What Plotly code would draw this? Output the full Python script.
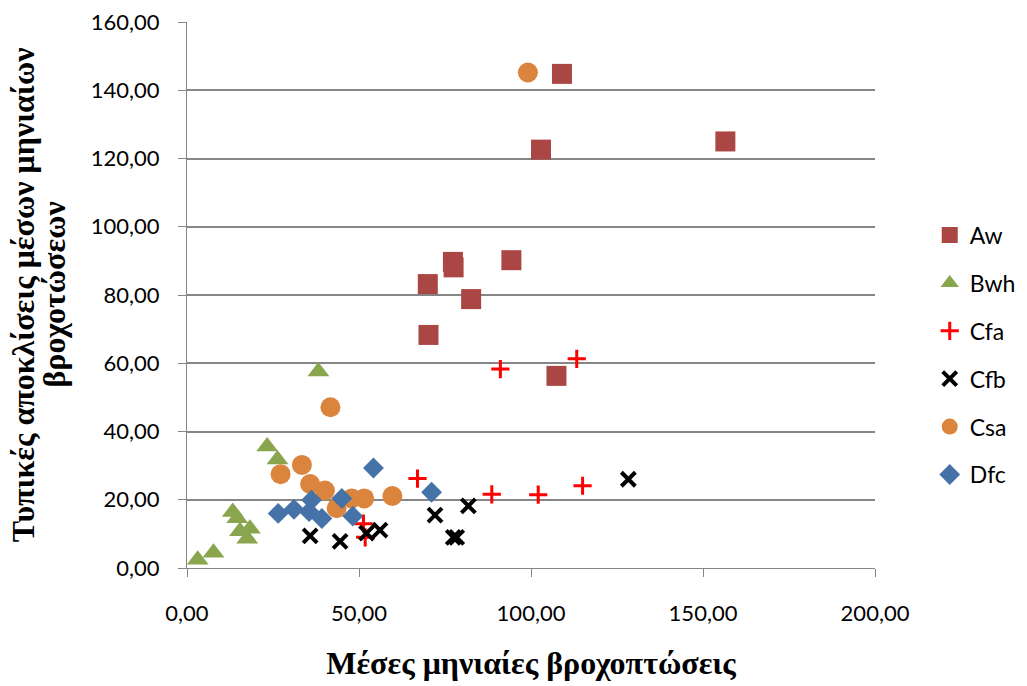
import plotly.graph_objects as go

# climate classes
aw_x = [109.0, 102.9, 156.5, 77.3, 77.5, 94.3, 70.0, 82.6, 70.2, 107.4]
aw_y = [144.8, 122.6, 125.0, 89.7, 88.1, 90.2, 83.2, 78.8, 68.3, 56.3]

bwh_x = [38.2, 23.3, 26.3, 13.3, 14.6, 18.3, 15.4, 17.5, 7.7, 3.1]
bwh_y = [57.6, 35.6, 31.8, 16.4, 14.6, 11.5, 10.8, 8.6, 4.5, 2.4]

cfa_x = [91.1, 113.3, 67.0, 88.6, 102.1, 115.0, 51.3, 51.8]
cfa_y = [58.3, 61.3, 26.2, 21.6, 21.5, 24.1, 13.0, 9.0]

cfb_x = [128.3, 81.8, 77.4, 78.4, 72.1, 35.8, 44.5, 52.2, 56.1]
cfb_y = [26.0, 18.2, 9.0, 9.0, 15.5, 9.4, 7.8, 10.2, 11.1]

csa_x = [99.1, 41.7, 33.4, 27.2, 35.8, 40.1, 47.9, 51.5, 59.7, 43.5]
csa_y = [145.2, 47.1, 30.2, 27.5, 24.6, 22.7, 20.4, 20.4, 21.1, 17.5]

dfc_x = [54.2, 71.1, 26.5, 31.1, 36.2, 35.5, 39.2, 45.0, 48.2]
dfc_y = [29.3, 22.2, 16.0, 17.2, 19.9, 16.5, 14.5, 20.4, 15.2]

y_title = ["Τυπικές αποκλίσεις μέσων μηνιαίων", "βροχοτώσεων"]

series = [
    ("Aw", aw_x, aw_y, dict(symbol="square", size=20, color="#AA4643")),
    ("Bwh", bwh_x, bwh_y, dict(symbol="triangle-up", size=19, color="#89A54E")),
    ("Cfa", cfa_x, cfa_y, dict(symbol="cross-thin-open", size=13, color="#FF0000",
                               line=dict(width=3, color="#FF0000"))),
    ("Cfb", cfb_x, cfb_y, dict(symbol="x-thin-open", size=14, color="#000000",
                               line=dict(width=4, color="#000000"))),
    ("Csa", csa_x, csa_y, dict(symbol="circle", size=20, color="#DB843D")),
    ("Dfc", dfc_x, dfc_y, dict(symbol="diamond", size=16, color="#4572A7")),
]

fig = go.Figure()
for name, xs, ys, mk in series:
    fig.add_trace(go.Scatter(x=xs, y=ys, mode="markers", name=name,
                             legendgroup=name, marker=mk))

grid = "#868686"
tickfont = dict(family="Lato", size=22, color="black")
titlefont = dict(family="Liberation Serif", size=32, color="black")

fig.update_xaxes(range=[0, 200], dtick=50, tickformat=".2f",
                 showgrid=False, zeroline=False, automargin=False,
                 showline=True, linecolor=grid, linewidth=1,
                 ticks="outside", ticklen=8, tickcolor=grid,
                 tickfont=tickfont, ticklabelstandoff=18,
                 ticklabeloverflow="allow",
                 title=dict(text="<b>Μέσες μηνιαίες βροχοπτώσεις</b>",
                            font=titlefont, standoff=26))
fig.update_yaxes(range=[0, 160], dtick=20, tickformat=".2f",
                 showgrid=True, gridcolor=grid, gridwidth=1.5, zeroline=False,
                 automargin=False,
                 showline=True, linecolor=grid, linewidth=1,
                 ticks="outside", ticklen=8, tickcolor=grid,
                 tickfont=tickfont, ticklabelstandoff=14,
                 ticklabeloverflow="allow")

# two-line y title, drawn as annotations to get the tight line spacing
for xpos, line in zip([-0.238, -0.194], y_title):
    fig.add_annotation(text="<b>" + line + "</b>", textangle=-90,
                       xref="paper", yref="paper", x=xpos, y=0.5,
                       xanchor="center", yanchor="middle", showarrow=False,
                       font=titlefont)

fig.update_layout(
    width=1027, height=686,
    margin=dict(l=179, r=160, t=14, b=126),
    paper_bgcolor="white", plot_bgcolor="white",
    separators=",.",
    legend=dict(xref="container", x=0.8975, xanchor="left",
                y=0.39, yanchor="middle",
                font=dict(family="Lato", size=23, color="black"),
                tracegroupgap=15, itemsizing="trace"),
)

fig.write_html("out.html")
